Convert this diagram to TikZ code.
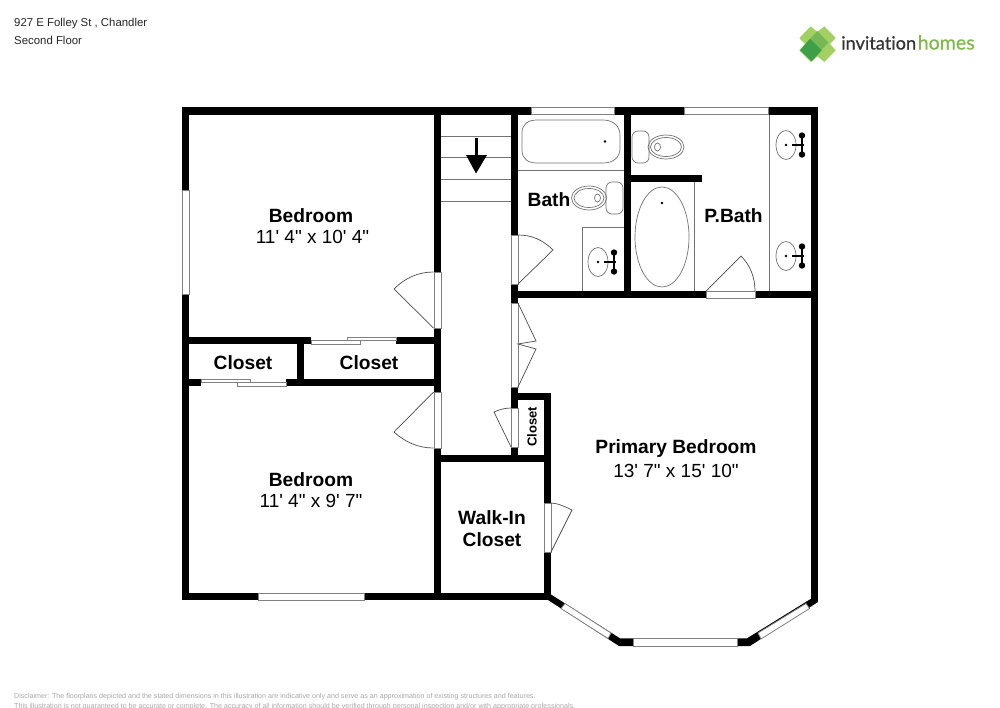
\documentclass[tikz,border=0pt]{standalone}
\usepackage{fontspec}
\setmainfont{Liberation Sans}
\newfontfamily\sizefont{Liberation Sans}
\newfontfamily\logofont[Ligatures=NoCommon,FakeBold=0.5]{Lato}
\definecolor{wl}{HTML}{000000}
\definecolor{lg}{HTML}{A2D063}
\definecolor{mg}{HTML}{76B856}
\definecolor{dg}{HTML}{3F9E48}
\definecolor{hm}{HTML}{7DBB4A}
\definecolor{disc}{HTML}{A8A8A8}
\tikzset{
  wall/.style={fill=wl,draw=none},
  winbox/.style={fill=white,draw=black!50,line width=0.8pt},
  leaf/.style={draw=black!70,line width=0.7pt},
  fix/.style={draw=black!55,line width=0.7pt},
  roomname/.style={font=\bfseries\fontsize{19.2}{20}\selectfont,inner sep=0pt},
  roomsize/.style={font=\sizefont\fontsize{19}{20}\selectfont,inner sep=0pt},
  header/.style={font=\fontsize{11.4}{13}\selectfont,inner sep=0pt,anchor=base west,text=black!85},
  disclaimer/.style={font=\fontsize{7.13}{8}\selectfont,inner sep=0pt,anchor=base west,text=disc},
  knob/.style={fill=black,draw=none},
}
\newcommand\Sink[2]{%
  \draw[fix] (#1,#2) ellipse [x radius=10,y radius=14.5];
  \fill[knob] (#1,#2) circle (1.3);
  \draw[black,line width=1.2pt] (#1+6,#2) -- (#1+18,#2) (#1+16,#2-9) -- (#1+16,#2+9);
  \fill[knob] (#1+16,#2-9.5) circle (3.2);
  \fill[knob] (#1+16,#2+9.5) circle (3.2);
  \fill[knob] (#1+16,#2) circle (1.8);
}
\begin{document}
\begin{tikzpicture}[x=1pt,y=-1pt]
\useasboundingbox (0,0) rectangle (1000,707);
\clip (0,0) rectangle (1000,707);
\fill[white] (0,0) rectangle (1000,707);
% header
\node[header] (addr) at (14,26) {927 E Folley St , Chandler};
\node[header] (floor) at (14,44) {Second Floor};
% logo
\fill[lg] (810.7,26.3) -- (817.3,32) -- (824.3,26.3) -- (835.7,38) -- (830,44) -- (835.7,50.3) -- (824.3,62) -- (817.3,56.3) -- (810.7,62) -- (799.3,50.3) -- (805,44) -- (799.3,38) -- cycle;
\fill[mg] (817.3,31) -- (828.3,42.7) -- (817.3,53.7) -- (806.7,42.7) -- cycle;
\fill[dg] (810,38.7) -- (821.7,50.3) -- (811.7,61.3) -- (800,50.3) -- cycle;
\node[inner sep=0pt,anchor=base west,font=\logofont\fontsize{18.2}{20}\selectfont,text=black!80] (logoa) at (841,49.5) {invitation};
\node[inner sep=0pt,anchor=base west,font=\logofont\fontsize{19.6}{20}\selectfont,text=hm] (logob) at (917.5,49.5) {homes};
% thin fixture lines
\draw[fix] (518,170) -- (624,170);
\draw[fix] (582,291) -- (582,227) -- (624,227);
\draw[fix] (694,182) -- (694,291);
\draw[fix] (769,114) -- (769,291);
\draw[fix] (441,136) -- (511,136) (441,157.5) -- (511,157.5) (441,179) -- (511,179) (441,201) -- (511,201);
% walls
\fill[wall] (182,107) rectangle (818,114.5);
\fill[wall] (182,107) rectangle (189,600);
\fill[wall] (182,593) rectangle (551,600);
\fill[wall] (434,107) rectangle (441,600);
\fill[wall] (511,107) rectangle (518,298);
\fill[wall] (511,291) rectangle (818,298);
\fill[wall] (511,298) rectangle (518,462);
\fill[wall] (511,393) rectangle (551,400);
\fill[wall] (544,393) rectangle (551,600);
\fill[wall] (434,455) rectangle (551,462);
\fill[wall] (624,107) rectangle (631,298);
\fill[wall] (624,175) rectangle (702,182);
\fill[wall] (811,107) rectangle (818,602);
\fill[wall] (182,337) rectangle (441,344);
\fill[wall] (182,379) rectangle (441,386);
\fill[wall] (297,337) rectangle (304,386);
\fill[wall] (548,600) -- (549,593) -- (551,594.5) -- (620,638.3) -- (747,638.3) -- (811.7,598.3) -- (818,602) -- (750,646) -- (619,646) -- cycle;
% windows
\draw[winbox] (531,107) rectangle (614,114);
\draw[winbox] (684,107) rectangle (768,114);
\draw[winbox] (182,190) rectangle (189,294);
\draw[winbox] (258,593) rectangle (364,600);
\draw[winbox] (565,603.5) -- (611,633) -- (608,638.5) -- (561,608.5) -- cycle;
\draw[winbox] (633,638.3) rectangle (737.5,646);
\draw[winbox] (758,633) -- (806,603.5) -- (809.5,608.5) -- (761,639) -- cycle;
% door openings
\draw[winbox] (434,272) rectangle (441,328);
\draw[winbox] (434,392) rectangle (441,448);
\draw[winbox] (511,235) rectangle (518,284);
\draw[winbox] (511,303) rectangle (518,387);
\draw[winbox] (511,408) rectangle (518,447);
\draw[winbox] (544,503) rectangle (551,552);
\draw[winbox] (706,291) rectangle (755,298);
% sliding closet doors
\fill[white] (311,337) rectangle (396,344);
\draw[winbox] (311,340.5) rectangle (360,344);
\draw[winbox] (347,337) rectangle (396,340.5);
\fill[white] (201,379) rectangle (286,386);
\draw[winbox] (201,379) rectangle (250,382.5);
\draw[winbox] (237,382.5) rectangle (286,386);
% door leaves
\draw[leaf] (433.5,328) -- (394,289) .. controls (405,278) and (418,272) .. (433.5,272);
\draw[leaf] (433.5,392) -- (394,432) .. controls (405,442) and (418,448) .. (433.5,448);
\draw[leaf] (518,284) -- (553,250) .. controls (543,240) and (532,235) .. (518,235);
\draw[leaf] (706,291) -- (741,256) .. controls (750,265) and (755,277) .. (755,291);
\draw[leaf] (511,447) -- (494,412) .. controls (499.5,409.5) and (505,408) .. (511,408);
\draw[leaf] (551,552) -- (572,510) .. controls (563,505.5) and (556,503) .. (551,503);
\draw[leaf] (518,303) -- (536,341) -- (518,344) -- (536,349) -- (518,387);
% tub, toilets, sinks
\draw[fix] (522,133) .. controls (522,124) and (528,120) .. (537,120) -- (603,120) .. controls (614,120) and (620,127) .. (620,135) -- (620,148) .. controls (620,157) and (614,163) .. (603,163) -- (537,163) .. controls (528,163) and (522,159) .. (522,150) -- cycle;
\fill[knob] (605,141.5) circle (1.3);
\draw[fix] (662,237) ellipse [x radius=27,y radius=50];
\fill[knob] (662,203) circle (1.3);
% upper toilet
\draw[fix,rounded corners=6pt] (632,131) rectangle (649,163);
\draw[fix] (666,147) ellipse [x radius=18,y radius=12];
\draw[fix] (666,147) ellipse [x radius=15.5,y radius=9.5];
\draw[fix] (657.5,147) ellipse [x radius=3,y radius=4];
% lower toilet
\draw[fix,rounded corners=6pt] (606,182) rectangle (623,214);
\draw[fix] (589,198) ellipse [x radius=17.5,y radius=12];
\draw[fix] (589,198) ellipse [x radius=15,y radius=9.5];
\draw[fix] (597.5,198) ellipse [x radius=3,y radius=4];
\Sink{786}{145}
\Sink{786}{256}
\Sink{598}{262}
% stairs arrow
\fill[black] (474.5,138) rectangle (477.5,156);
\fill[black] (466,155) -- (487,155) -- (476,173.5) -- cycle;
% labels
\node[roomname] (bed1) at (311,216) {Bedroom};
\node[roomsize] (bed1s) at (312.5,236.5) {11' 4" x 10' 4"};
\node[roomname] (bed2) at (311,480) {Bedroom};
\node[roomsize] (bed2s) at (311,501) {11' 4" x 9' 7"};
\node[roomname] (c1) at (243,363) {Closet};
\node[roomname] (c2) at (369,363) {Closet};
\node[roomname] (bath) at (549,200) {Bath};
\node[roomname] (pbath) at (733.5,216) {P.Bath};
\node[roomname] (prim) at (676,449) {Primary Bedroom};
\node[roomsize] (prims) at (676,470.5) {13' 7" x 15' 10"};
\node[roomname] (walk1) at (492,518) {Walk-In};
\node[roomname] (walk2) at (492,539.5) {Closet};
\node[inner sep=0pt,rotate=90,font=\bfseries\fontsize{13}{14}\selectfont] (c3) at (532,427) {Closet};
% disclaimer
\node[disclaimer] (d1) at (14,698) {Disclaimer: The floorplans depicted and the stated dimensions in this illustration are indicative only and serve as an approximation of existing structures and features.};
\node[disclaimer] (d2) at (14,708.5) {This illustration is not guaranteed to be accurate or complete. The accuracy of all information should be verified through personal inspection and/or with appropriate professionals.};
\end{tikzpicture}
\end{document}
